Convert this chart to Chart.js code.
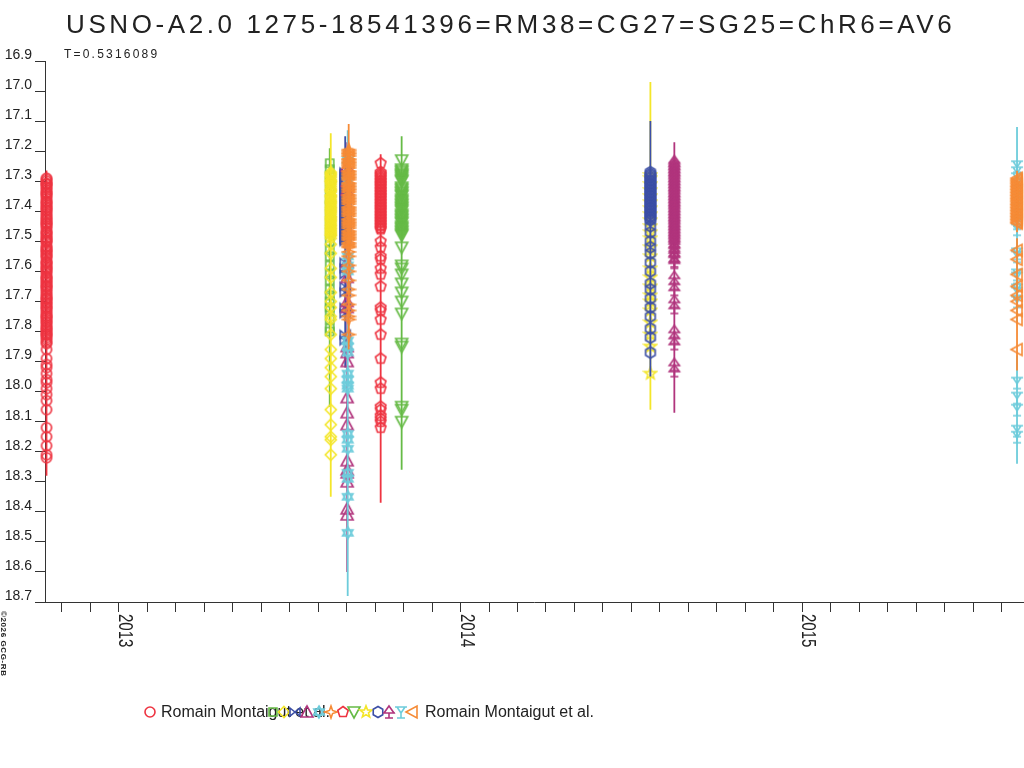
<!DOCTYPE html>
<html><head><meta charset="utf-8">
<script src="https://cdn.jsdelivr.net/npm/chart.js@4.4.1/dist/chart.umd.min.js"></script>
<style>html,body{margin:0;padding:0;background:#fff;}canvas{display:block;}</style>
</head><body>
<canvas id="c" width="1024" height="768"></canvas>
<script>
// ---------------- DATA ----------------
const chartTitle = 'USNO-A2.0 1275-18541396=RM38=CG27=SG25=ChR6=AV6';
const periodLabel = 'T=0.5316089';
const observerLabel = 'Romain Montaigut et al.';
const copyrightLabel = '\u00A92026 GCG-RB';
const yTickValues = [16.9,17.0,17.1,17.2,17.3,17.4,17.5,17.6,17.7,17.8,17.9,18.0,18.1,18.2,18.3,18.4,18.5,18.6,18.7];
const yearTicks = [2013, 2014, 2015];
const xRange = [2012.7836, 2015.6462];

// series 1: red circles
const s1Date = 2012.788;
const s1Mag = [17.29,17.30,17.31,17.31,17.33, 17.34,17.35,17.37,17.38,17.39, 17.40,17.42,17.43,17.44,17.45, 17.47,17.48,17.49,17.50,17.52, 17.53,17.54,17.55,17.57,17.58, 17.59,17.60,17.62,17.63,17.64, 17.65,17.66,17.68,17.69,17.70, 17.71,17.72,17.74,17.75,17.76, 17.77,17.79,17.80,17.81,17.82, 17.84, 17.86,17.89,17.91,17.92, 17.94,17.96,17.97,17.99,18.01, 18.03,18.06,18.12,18.15,18.18, 18.21,18.22];
const s1Err = [0.02,0.03,0.03,0.03,0.03, 0.03,0.03,0.03,0.03,0.03, 0.03,0.03,0.03,0.03,0.03, 0.03,0.03,0.03,0.03,0.03, 0.03,0.03,0.04,0.03,0.04, 0.04,0.04,0.04,0.04,0.04, 0.04,0.04,0.04,0.04,0.04, 0.04,0.04,0.04,0.04,0.04, 0.04,0.04,0.05,0.04,0.05, 0.05, 0.05,0.05,0.05,0.05, 0.05,0.05,0.05,0.05,0.05, 0.05,0.05,0.06,0.06,0.06, 0.06,0.06];
const s1MagB = [17.294,17.307,17.318,17.323,17.337, 17.344,17.357,17.366,17.374,17.386, 17.395,17.407,17.414,17.426,17.437, 17.443,17.455,17.466,17.474,17.487, 17.496,17.503,17.516,17.527,17.534, 17.546,17.555,17.567,17.573,17.586, 17.594,17.606,17.617,17.624,17.635, 17.647,17.653,17.666,17.674,17.687, 17.693,17.705,17.718,17.726,17.733, 17.747,17.754,17.767,17.778,17.785, 17.794,17.806,17.813,17.827,17.836];
const s1ErrB = [0.03,0.03,0.03,0.03,0.03, 0.03,0.03,0.03,0.03,0.03, 0.03,0.03,0.03,0.03,0.03, 0.03,0.03,0.03,0.03,0.03, 0.03,0.03,0.04,0.04,0.04, 0.04,0.04,0.04,0.04,0.04, 0.04,0.04,0.04,0.04,0.04, 0.04,0.04,0.04,0.04,0.04, 0.04,0.04,0.04,0.04,0.04, 0.04,0.04,0.04,0.04,0.05, 0.05,0.05,0.05,0.05,0.05];
// series 2: green squares
const s2Date = 2013.617;
const s2Mag = [17.24,17.26,17.28,17.30,17.33, 17.36,17.38,17.41,17.44,17.47, 17.50,17.53,17.55,17.58,17.61, 17.63,17.66,17.68,17.70,17.72, 17.73,17.76,17.79,17.80];
const s2Err = [0.05,0.05,0.05,0.05,0.05, 0.05,0.06,0.06,0.06,0.06, 0.06,0.07,0.07,0.07,0.07, 0.08,0.08,0.08,0.09,0.09, 0.09,0.10,0.26,0.12];
// series 3: yellow diamonds
const s3Date = 2013.620;
const s3Mag = [17.27,17.28,17.30,17.30,17.31, 17.33,17.33,17.35,17.36,17.37, 17.38,17.39,17.40,17.41,17.42, 17.43,17.44,17.45,17.46,17.47, 17.48,17.48, 17.49,17.51,17.54, 17.59,17.62,17.67,17.70,17.72, 17.75,17.76,17.81,17.86,17.89, 17.92,17.95,17.99,18.06,18.11, 18.15,18.16,18.21];
const s3Err = [0.13,0.04,0.04,0.04,0.04, 0.04,0.04,0.04,0.04,0.04, 0.04,0.04,0.04,0.05,0.05, 0.05,0.05,0.05,0.05,0.05, 0.05,0.05, 0.06,0.06,0.06, 0.06,0.07,0.07,0.07,0.08, 0.08,0.08,0.09,0.09,0.10, 0.10,0.10,0.11,0.12,0.12, 0.13,0.13,0.14];
const s3MagB = [17.275,17.286,17.294,17.304,17.317, 17.324,17.336,17.346,17.353,17.366, 17.374,17.386,17.395,17.404,17.417, 17.425,17.434,17.446,17.456,17.465, 17.474];
const s3ErrB = [0.04,0.04,0.04,0.04,0.04, 0.04,0.04,0.04,0.04,0.04, 0.04,0.04,0.04,0.05,0.05, 0.05,0.05,0.05,0.05,0.05, 0.05];
// series 4: blue bowties
const s4Date = 2013.6623;
const s4Mag = [17.27,17.28,17.30,17.31,17.32, 17.34,17.35,17.37,17.38,17.40, 17.41,17.43,17.44,17.46,17.47, 17.49,17.50,17.57,17.59,17.61, 17.65,17.67,17.72,17.74,17.81, 17.83];
const s4Err = [0.12,0.04,0.04,0.04,0.04, 0.04,0.04,0.04,0.05,0.05, 0.05,0.05,0.05,0.05,0.05, 0.05,0.06,0.06,0.06,0.07, 0.07,0.07,0.08,0.08,0.08, 0.09];
const s4MagB = [17.275,17.286,17.296,17.305,17.316, 17.327,17.336,17.346,17.356,17.365, 17.376,17.387,17.395,17.406,17.415, 17.426,17.436,17.447,17.455,17.466, 17.476,17.486,17.494];
const s4ErrB = [0.04,0.04,0.04,0.04,0.04, 0.04,0.04,0.04,0.04,0.05, 0.05,0.05,0.05,0.05,0.05, 0.05,0.05,0.05,0.05,0.05, 0.05,0.06,0.06];
// series 5: purple triangles
const s5Date = 2013.6681;
const s5Mag = [17.25,17.30,17.33,17.57,17.62, 17.70,17.72,17.85,17.87,17.90, 18.02,18.07,18.11,18.23,18.26, 18.27,18.30,18.39,18.41];
const s5Err = [0.08,0.05,0.05,0.07,0.07, 0.08,0.08,0.09,0.09,0.10, 0.11,0.11,0.12,0.13,0.13, 0.14,0.14,0.16,0.19];
// series 6: cyan hexagrams
const s6Date = 2013.6696;
const s6Mag = [17.23,17.30,17.55,17.58,17.60, 17.83,17.85,17.87,17.94,17.96, 17.98,17.99,18.14,18.16,18.19, 18.27,18.29,18.35,18.47];
const s6Err = [0.10,0.05,0.07,0.07,0.07, 0.09,0.09,0.09,0.10,0.10, 0.10,0.11,0.12,0.12,0.13, 0.14,0.14,0.15,0.21];
// series 7: orange 4-point stars
const s7Date = 2013.6725;
const s7Mag = [17.20,17.21,17.23,17.24,17.25, 17.27,17.28,17.29,17.31,17.32, 17.33,17.35,17.36,17.37,17.39, 17.40,17.41,17.43,17.44,17.45, 17.47,17.48,17.49,17.51,17.52, 17.55,17.58,17.60,17.63,17.66, 17.68,17.71,17.73,17.75,17.76, 17.81];
const s7Err = [0.09,0.04,0.04,0.04,0.04, 0.04,0.04,0.04,0.04,0.04, 0.04,0.04,0.04,0.04,0.04, 0.04,0.04,0.04,0.04,0.04, 0.04,0.04,0.05,0.05,0.05, 0.05,0.05,0.05,0.05,0.05, 0.05,0.05,0.05,0.05,0.05, 0.05];
const s7MagB = [17.195,17.206,17.216,17.226,17.236, 17.245,17.256,17.266,17.276,17.286, 17.295,17.306,17.316,17.326,17.336, 17.345,17.356,17.366,17.376,17.386, 17.395,17.406,17.416,17.426,17.436, 17.445,17.456,17.466,17.476,17.486, 17.495,17.505,17.516,17.535];
const s7ErrB = [0.04,0.04,0.04,0.04,0.04, 0.04,0.04,0.04,0.04,0.04, 0.04,0.04,0.04,0.04,0.04, 0.04,0.04,0.04,0.04,0.04, 0.04,0.04,0.04,0.04,0.04, 0.05,0.05,0.05,0.05,0.05, 0.05,0.05,0.05,0.05];
// series 8: red pentagons
const s8Date = 2013.7661;
const s8Mag = [17.24,17.27,17.28,17.29,17.30, 17.31,17.32,17.33,17.34,17.35, 17.36,17.37,17.38,17.39,17.40, 17.41,17.42,17.43,17.44,17.45, 17.46, 17.50,17.52,17.55,17.56, 17.59,17.61,17.65,17.72,17.73, 17.76,17.81,17.89,17.97,17.99, 18.05,18.06,18.08,18.09,18.10, 18.12];
const s8Err = [0.03,0.03,0.03,0.03,0.03, 0.03,0.03,0.03,0.03,0.03, 0.03,0.03,0.04,0.04,0.04, 0.04,0.04,0.04,0.04,0.04, 0.04, 0.05,0.05,0.05,0.05, 0.05,0.06,0.06,0.07,0.07, 0.07,0.08,0.08,0.09,0.09, 0.10,0.10,0.10,0.11,0.11, 0.25];
const s8MagB = [17.275,17.285,17.296,17.306,17.315, 17.326,17.336,17.346,17.355,17.366, 17.376,17.386,17.395,17.406,17.416, 17.426,17.436,17.446,17.456];
const s8ErrB = [0.03,0.03,0.03,0.03,0.03, 0.03,0.03,0.03,0.03,0.03, 0.03,0.04,0.04,0.04,0.04, 0.04,0.04,0.04,0.04];
// series 9: green down-triangles
const s9Date = 2013.8275;
const s9Mag = [17.23,17.26,17.27,17.28,17.29, 17.30,17.32,17.33,17.34,17.35, 17.36,17.37,17.38,17.39,17.40, 17.41,17.42,17.43,17.44,17.45, 17.46,17.47,17.48,17.52,17.58, 17.59,17.61,17.64,17.67,17.70, 17.74,17.84,17.85,18.05,18.06, 18.10];
const s9Err = [0.08,0.04,0.04,0.04,0.04, 0.04,0.04,0.04,0.04,0.04, 0.05,0.05,0.05,0.05,0.05, 0.05,0.05,0.05,0.05,0.05, 0.05,0.05,0.05,0.06,0.06, 0.06,0.06,0.07,0.07,0.07, 0.08,0.09,0.09,0.11,0.11, 0.16];
const s9MagB = [17.265,17.276,17.284,17.296,17.325, 17.336,17.346,17.365,17.376,17.386, 17.395,17.415,17.426,17.436,17.455, 17.466,17.476];
const s9ErrB = [0.04,0.04,0.04,0.04,0.04, 0.04,0.04,0.05,0.05,0.05, 0.05,0.05,0.05,0.05,0.05, 0.05,0.05];
// series 10: yellow stars
const s10Date = 2014.5556;
const s10Mag = [17.28,17.29,17.31,17.33,17.35, 17.37,17.39,17.41,17.43,17.45, 17.47,17.49,17.52,17.55,17.59, 17.62,17.65,17.68,17.70,17.73, 17.77,17.81,17.85,17.94];
const s10Err = [0.31,0.05,0.05,0.05,0.05, 0.05,0.05,0.06,0.06,0.06, 0.06,0.06,0.07,0.07,0.07, 0.08,0.08,0.08,0.09,0.09, 0.09,0.10,0.10,0.12];
// series 11: blue hexagons
const s11Date = 2014.5556;
const s11Mag = [17.27,17.28,17.29,17.30,17.31, 17.32,17.33,17.34,17.35,17.36, 17.37,17.38,17.39,17.40,17.41, 17.42,17.43,17.45,17.47,17.50, 17.52,17.54,17.57,17.60,17.64, 17.66,17.69,17.72,17.75,17.79, 17.82,17.87];
const s11Err = [0.17,0.04,0.04,0.04,0.04, 0.04,0.04,0.04,0.04,0.04, 0.04,0.04,0.04,0.05,0.05, 0.05,0.05,0.05,0.05,0.05, 0.05,0.05,0.06,0.06,0.06, 0.06,0.06,0.07,0.07,0.07, 0.07,0.08];
const s11MagB = [17.275,17.285,17.296,17.306,17.315, 17.326,17.336,17.346,17.355,17.366, 17.376,17.386,17.395,17.406,17.416, 17.426];
const s11ErrB = [0.04,0.04,0.04,0.04,0.04, 0.04,0.04,0.04,0.04,0.04, 0.04,0.04,0.04,0.05,0.05, 0.05];
// series 12: purple totems
const s12Date = 2014.6257;
const s12Mag = [17.24,17.25,17.26,17.27,17.28, 17.29,17.30,17.31,17.32,17.33, 17.34,17.35,17.36,17.37,17.38, 17.39,17.40,17.41,17.42,17.43, 17.44,17.45,17.46,17.47,17.48, 17.49,17.50,17.52,17.53,17.55, 17.57,17.62,17.64,17.66,17.70, 17.72,17.80,17.82,17.84,17.91, 17.93];
const s12Err = [0.07,0.04,0.04,0.04,0.04, 0.04,0.04,0.04,0.04,0.04, 0.04,0.04,0.04,0.04,0.04, 0.04,0.04,0.04,0.05,0.05, 0.05,0.05,0.05,0.05,0.05, 0.05,0.05,0.05,0.05,0.06, 0.06,0.06,0.06,0.07,0.07, 0.07,0.08,0.08,0.08,0.09, 0.14];
const s12MagB = [17.235,17.246,17.256,17.266,17.276, 17.285,17.296,17.306,17.316,17.326, 17.335,17.346,17.356,17.366,17.376, 17.385,17.396,17.406,17.416,17.426, 17.435,17.446,17.456,17.466,17.476, 17.485,17.496,17.506,17.516,17.536, 17.546,17.565];
const s12ErrB = [0.04,0.04,0.04,0.04,0.04, 0.04,0.04,0.04,0.04,0.04, 0.04,0.04,0.04,0.04,0.04, 0.04,0.04,0.04,0.05,0.05, 0.05,0.05,0.05,0.05,0.05, 0.05,0.05,0.05,0.05,0.05, 0.06,0.06];
// series 13: cyan inverted totems
const s13Date = 2015.6287;
const s13Mag = [17.25,17.27,17.29,17.31,17.33, 17.35,17.37,17.39,17.41,17.43, 17.44,17.46,17.54,17.55,17.61, 17.62,17.66,17.67,17.70,17.97, 18.02,18.06,18.13,18.15];
const s13Err = [0.13,0.04,0.04,0.04,0.04, 0.04,0.04,0.05,0.05,0.05, 0.05,0.05,0.06,0.06,0.06, 0.06,0.07,0.07,0.07,0.09, 0.10,0.10,0.11,0.06];
// series 14: orange left triangles
const s14Date = 2015.6287;
const s14Mag = [17.29,17.30,17.31,17.32,17.33, 17.34,17.35,17.36,17.37,17.38, 17.39,17.40,17.41,17.42,17.43, 17.44,17.53,17.56,17.61,17.65, 17.68,17.70,17.73,17.76,17.86];
const s14Err = [0.02,0.03,0.03,0.03,0.03, 0.03,0.03,0.03,0.03,0.03, 0.03,0.03,0.03,0.03,0.03, 0.03,0.04,0.04,0.05,0.05, 0.05,0.05,0.06,0.06,0.07];
const s14MagB = [17.295,17.305,17.316,17.326,17.336, 17.346,17.356,17.365,17.376,17.386, 17.396,17.406,17.416,17.426,17.436];
const s14ErrB = [0.03,0.03,0.03,0.03,0.03, 0.03,0.03,0.03,0.03,0.03, 0.03,0.03,0.03,0.03,0.03];

// labels of the legend entries (only first and last carry text in the original)
const legendLabels = [observerLabel,'','','','','','','','','','','','',observerLabel];

// ---------------- STYLE ----------------
const C = {red:'#EE3441', green:'#66BB46', yellow:'#F4E62A', blue:'#3C4FA6', purple:'#B1357D', cyan:'#6DCCDB', orange:'#F68B36'};
const seriesDefs = [
  [s1Date, s1Mag.concat(s1MagB), s1Err.concat(s1ErrB), C.red, 'circle'],
  [s2Date, s2Mag, s2Err, C.green, 'square'],
  [s3Date, s3Mag.concat(s3MagB), s3Err.concat(s3ErrB), C.yellow, 'diamond'],
  [s4Date, s4Mag.concat(s4MagB), s4Err.concat(s4ErrB), C.blue, 'bowtie'],
  [s5Date, s5Mag, s5Err, C.purple, 'triangle'],
  [s6Date, s6Mag, s6Err, C.cyan, 'hexagram'],
  [s7Date, s7Mag.concat(s7MagB), s7Err.concat(s7ErrB), C.orange, 'star4'],
  [s8Date, s8Mag.concat(s8MagB), s8Err.concat(s8ErrB), C.red, 'pentagon'],
  [s9Date, s9Mag.concat(s9MagB), s9Err.concat(s9ErrB), C.green, 'triangleDown'],
  [s10Date, s10Mag, s10Err, C.yellow, 'star5'],
  [s11Date, s11Mag.concat(s11MagB), s11Err.concat(s11ErrB), C.blue, 'hexagon'],
  [s12Date, s12Mag.concat(s12MagB), s12Err.concat(s12ErrB), C.purple, 'totemUp'],
  [s13Date, s13Mag, s13Err, C.cyan, 'totemDown'],
  [s14Date, s14Mag.concat(s14MagB), s14Err.concat(s14ErrB), C.orange, 'triangleLeft']
];

function makeMarker(shape, color) {
  const S = 16, c = 8;
  const cv = document.createElement('canvas'); cv.width = S; cv.height = S;
  const g = cv.getContext('2d');
  g.strokeStyle = color; g.lineWidth = 1.6; g.lineJoin = 'miter';
  g.beginPath();
  const poly = (pts) => { pts.forEach((p, i) => i ? g.lineTo(c + p[0], c + p[1]) : g.moveTo(c + p[0], c + p[1])); g.closePath(); };
  const reg = (n, r, rot) => { const a = []; for (let i = 0; i < n; i++) { const t = rot + 2 * Math.PI * i / n; a.push([r * Math.cos(t), r * Math.sin(t)]); } poly(a); };
  const star = (n, ro, ri) => { const a = []; for (let i = 0; i < 2 * n; i++) { const t = -Math.PI / 2 + Math.PI * i / n; const r = i % 2 ? ri : ro; a.push([r * Math.cos(t), r * Math.sin(t)]); } poly(a); };
  switch (shape) {
    case 'circle': g.arc(c, c, 5, 0, Math.PI * 2); break;
    case 'square': poly([[-4, -4], [4, -4], [4, 4], [-4, 4]]); break;
    case 'diamond': poly([[0, -5.5], [5.5, 0], [0, 5.5], [-5.5, 0]]); break;
    case 'bowtie': poly([[-5, -4], [5, 4], [5, -4], [-5, 4]]); break;
    case 'triangle': poly([[0, -6], [6, 5], [-6, 5]]); break;
    case 'triangleDown': poly([[-6, -5], [6, -5], [0, 6]]); break;
    case 'triangleLeft': poly([[-6, 0], [5, -6], [5, 6]]); break;
    case 'hexagram': reg(3, 6, -Math.PI / 2); reg(3, 6, Math.PI / 2); break;
    case 'star4': star(4, 6, 2.2); break;
    case 'pentagon': reg(5, 5.5, -Math.PI / 2); break;
    case 'star5': star(5, 6.2, 2.6); break;
    case 'hexagon': reg(6, 5.5, Math.PI / 6); break;
    case 'totemUp':
      poly([[0, -6], [5, 1], [-5, 1]]);
      g.moveTo(c - 6, c + 1); g.lineTo(c + 6, c + 1);
      g.moveTo(c, c + 1); g.lineTo(c, c + 6);
      g.moveTo(c - 4, c + 6); g.lineTo(c + 4, c + 6);
      break;
    case 'totemDown':
      g.moveTo(c - 6, c - 5); g.lineTo(c + 6, c - 5);
      g.moveTo(c - 4, c - 5); g.lineTo(c, c + 1); g.lineTo(c + 4, c - 5);
      g.moveTo(c, c + 1); g.lineTo(c, c + 6);
      g.moveTo(c - 4, c + 6); g.lineTo(c + 4, c + 6);
      break;
  }
  g.stroke();
  return cv;
}

const markers = seriesDefs.map(d => makeMarker(d[4], d[3]));
const datasets = seriesDefs.map((d, i) => ({
  label: legendLabels[i],
  data: d[1].map((m, k) => ({x: d[0], y: m, e: d[2][k]})),
  borderColor: d[3],
  backgroundColor: d[3],
  pointStyle: markers[i],
  pointRadius: 1,
  pointHoverRadius: 0,
  pointBorderWidth: 0,
  pointHoverBorderWidth: 0,
  showLine: false,
  clip: false,
  order: seriesDefs.length - i
}));

// monthly tick positions on the time axis
const monthTicks = [];
for (let y = yearTicks[0] - 1; y <= yearTicks[yearTicks.length - 1]; y++) {
  for (let m = 0; m < 12; m++) { const v = y + m / 12; if (v >= xRange[0] && v <= xRange[1]) monthTicks.push(+v.toFixed(6)); }
}

const FONT = '"Liberation Sans", Arial, Helvetica, sans-serif';
const TXT = '#222';

const errorBars = {
  id: 'errorBars',
  beforeDatasetDraw(chart, args) {
    const ds = chart.data.datasets[args.index];
    const xs = chart.scales.x, ys = chart.scales.y, ctx = chart.ctx;
    ctx.save();
    ctx.strokeStyle = ds.borderColor; ctx.lineWidth = 1.8;
    ctx.beginPath();
    ds.data.forEach(p => {
      const x = xs.getPixelForValue(p.x);
      ctx.moveTo(x, ys.getPixelForValue(p.y - p.e));
      ctx.lineTo(x, ys.getPixelForValue(p.y + p.e));
    });
    ctx.stroke();
    ctx.restore();
  }
};

const decorations = {
  id: 'decorations',
  afterDraw(chart) {
    const ctx = chart.ctx, xs = chart.scales.x;
    ctx.save();
    ctx.fillStyle = TXT;
    // title
    ctx.font = '26px ' + FONT; ctx.textAlign = 'left'; ctx.textBaseline = 'alphabetic';
    ctx.letterSpacing = '3.6px';
    ctx.fillText(chartTitle, 66, 33);
    // period
    ctx.font = '12px ' + FONT; ctx.letterSpacing = '2.2px';
    ctx.fillText(periodLabel, 64, 58);
    ctx.letterSpacing = '0px';
    // year labels (rotated clockwise)
    yearTicks.forEach(yr => {
      const x = xs.getPixelForValue(yr);
      ctx.save();
      ctx.translate(x, 614); ctx.rotate(Math.PI / 2); ctx.scale(0.75, 1);
      ctx.font = '20px ' + FONT; ctx.textAlign = 'left'; ctx.textBaseline = 'alphabetic';
      ctx.fillText(String(yr), 0, 0);
      ctx.restore();
    });
    // copyright
    ctx.save();
    ctx.translate(1, 611); ctx.rotate(Math.PI / 2);
    ctx.font = 'bold 8px ' + FONT; ctx.letterSpacing = '0.6px';
    ctx.fillText(copyrightLabel, 0, 0);
    ctx.restore();
    // legend
    const ly = 712;
    const mx = [150, 273, 284, 295, 307, 319, 331, 343, 354, 366, 378, 389, 401, 412];
    ctx.font = '16px ' + FONT; ctx.textBaseline = 'alphabetic'; ctx.textAlign = 'left';
    ctx.fillText(legendLabels[0], 161, 717);
    mx.forEach((x, i) => ctx.drawImage(markers[i], x - 8, ly - 8));
    ctx.fillText(legendLabels[legendLabels.length - 1], 425, 717);
    ctx.restore();
  }
};

new Chart(document.getElementById('c'), {
  type: 'scatter',
  data: {datasets},
  options: {
    responsive: false,
    animation: false,
    devicePixelRatio: 1,
    layout: {padding: {top: 61, left: 0, right: 0, bottom: 0}},
    plugins: {legend: {display: false}, title: {display: false}, tooltip: {enabled: false}},
    scales: {
      x: {
        type: 'linear', position: 'bottom', min: xRange[0], max: xRange[1],
        afterBuildTicks: s => { s.ticks = monthTicks.map(v => ({value: v})); },
        afterFit: s => { s.height = 166; s.paddingLeft = 0; s.paddingRight = 0; },
        grid: {drawOnChartArea: false, drawTicks: true, tickLength: 10, color: '#333', lineWidth: 1},
        border: {display: true, color: '#333', width: 1},
        ticks: {display: false}
      },
      y: {
        type: 'linear', position: 'left', reverse: true, min: 16.9, max: 18.7,
        afterBuildTicks: s => { s.ticks = yTickValues.map(v => ({value: v})); },
        afterFit: s => { s.width = 45; },
        grid: {drawOnChartArea: false, drawTicks: true, tickLength: 10, color: '#333', lineWidth: 1},
        border: {display: true, color: '#333', width: 1},
        ticks: {padding: 3, labelOffset: -6, color: TXT, font: {size: 14, family: FONT}, callback: v => Number(v).toFixed(1)}
      }
    }
  },
  plugins: [errorBars, decorations]
});
</script>
</body></html>
